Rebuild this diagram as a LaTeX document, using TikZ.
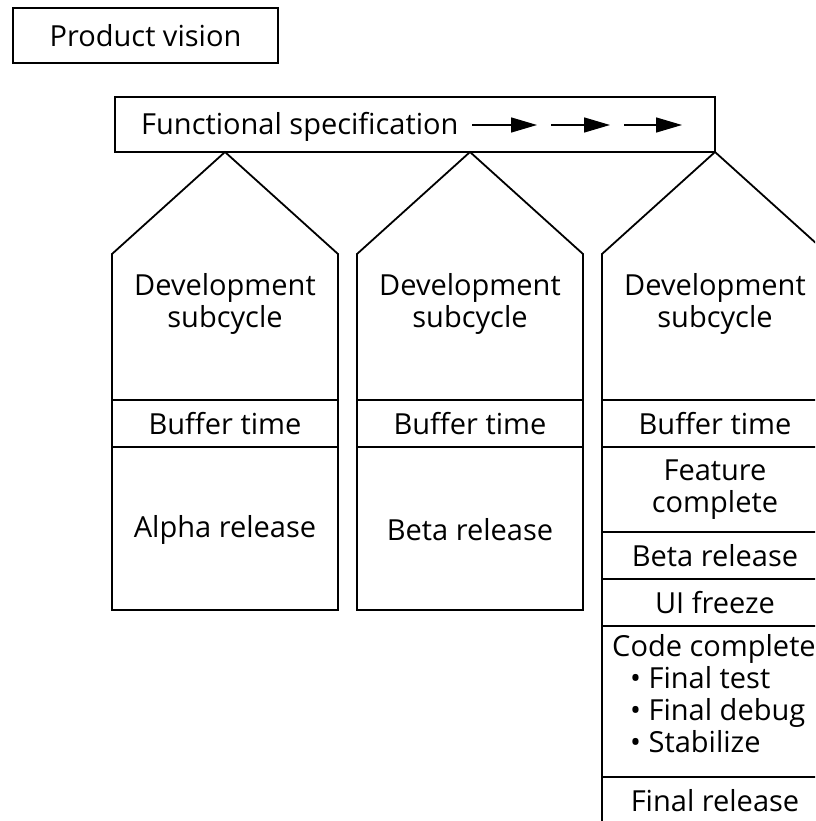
\documentclass[tikz,border=0pt]{standalone}
\usepackage{fontspec}
\setmainfont{Open Sans}
\usetikzlibrary{arrows.meta}
\begin{document}
\begin{tikzpicture}[x=1pt,y=-1pt,
  box/.style={draw, line width=1.8pt, line join=miter},
  lbl/.style={font=\fontsize{29}{32}\selectfont, align=center, inner sep=0pt},
  flow/.style={line width=1.4pt, -{Triangle[length=26pt,width=15pt]}}]
\useasboundingbox (0,0) rectangle (815,821);
\clip (0,0) rectangle (815,821);

% product vision
\draw[box] (13,8) rectangle (278,63);
\node[lbl] (vision) at (145.5,35.5) {Product vision};

% functional specification bar with its forward arrows
\draw[box] (115,97) rectangle (715,152);
\node[lbl, anchor=base west] (spec) at (141,135) {Functional specification};
\coordinate (a1s) at (472,125); \coordinate (a1e) at (537,125);
\coordinate (a2s) at (551,125); \coordinate (a2e) at (610,125);
\coordinate (a3s) at (624,125); \coordinate (a3e) at (682,125);
\draw[flow] (a1s) -- (a1e);
\draw[flow] (a2s) -- (a2e);
\draw[flow] (a3s) -- (a3e);

% three subcycle columns: left edge, apex, right edge
\foreach \L/\B in {112/610, 357/610, 602/840} {
  \pgfmathsetmacro{\A}{\L+113}
  \pgfmathsetmacro{\R}{\L+226}
  \draw[box] (\L,\B) -- (\L,254) -- (\A,152) -- (\R,254) -- (\R,\B) -- cycle;
  \draw[box] (\L,400) -- (\R,400);
  \draw[box] (\L,447) -- (\R,447);
}
% extra milestones of the last column
\draw[box] (602,532) -- (828,532);
\draw[box] (602,579) -- (828,579);
\draw[box] (602,626) -- (828,626);
\draw[box] (602,777) -- (828,777);

% column 1
\node[lbl] (dev1) at (225,304) {Development\\subcycle};
\node[lbl] (buf1) at (225,423.5) {Buffer time};
\node[lbl] (alpha) at (225,530) {Alpha release};
% column 2
\node[lbl] (dev2) at (470,304) {Development\\subcycle};
\node[lbl] (buf2) at (470,423.5) {Buffer time};
\node[lbl] (beta1) at (470,530) {Beta release};
% column 3
\node[lbl] (dev3) at (715,304) {Development\\subcycle};
\node[lbl] (buf3) at (715,423.5) {Buffer time};
\node[lbl] (feat) at (715,489.5) {Feature\\complete};
\node[lbl] (beta2) at (715,555.5) {Beta release};
\node[lbl] (uif) at (715,602.5) {UI freeze};
\node[lbl, anchor=north west, align=left] (code) at (612,634)
  {Code complete\\
   \hspace*{18pt}\textbullet\ Final test\\
   \hspace*{18pt}\textbullet\ Final debug\\
   \hspace*{18pt}\textbullet\ Stabilize};
\node[lbl] (final) at (715,801) {Final release};
\end{tikzpicture}
\end{document}
